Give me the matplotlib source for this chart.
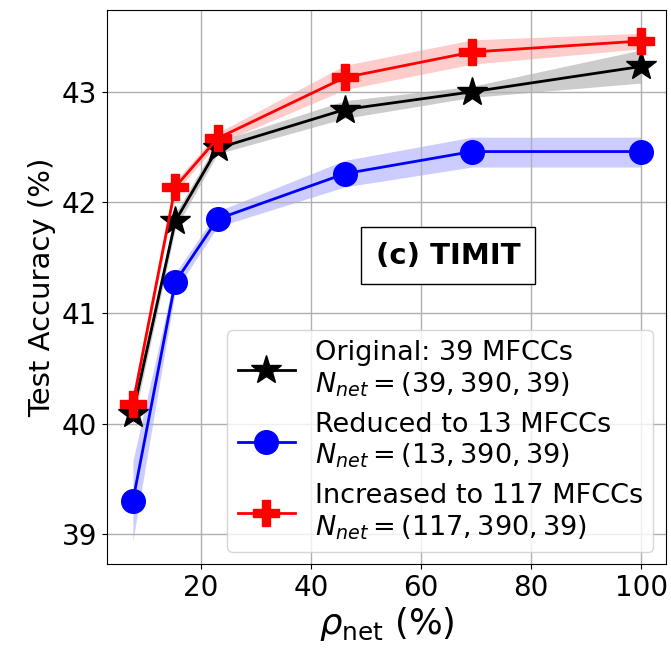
import matplotlib
matplotlib.use("Agg")
import matplotlib.pyplot as plt
import numpy as np

x = [100/13, 200/13, 300/13, 600/13, 900/13, 100.0]

orig_mean = [40.09, 41.83, 42.49, 42.84, 43.00, 43.23]
orig_lo   = [39.99, 41.76, 42.44, 42.76, 42.95, 43.08]
orig_hi   = [40.19, 41.90, 42.55, 42.92, 43.05, 43.38]

red_mean = [40.18, 42.14, 42.58, 43.13, 43.36, 43.46]
red_lo   = [40.10, 42.09, 42.53, 43.02, 43.25, 43.39]
red_hi   = [40.26, 42.19, 42.63, 43.24, 43.47, 43.53]

blue_mean = [39.30, 41.28, 41.85, 42.26, 42.46, 42.46]
blue_lo   = [38.94, 41.20, 41.78, 42.14, 42.32, 42.32]
blue_hi   = [39.66, 41.36, 41.92, 42.38, 42.59, 42.59]

labels = ["Original: 39 MFCCs\n$N_{net} = (39, 390, 39)$",
          "Reduced to 13 MFCCs\n$N_{net} = (13, 390, 39)$",
          "Increased to 117 MFCCs\n$N_{net} = (117, 390, 39)$"]

fig = plt.figure(figsize=(6.71, 6.51), dpi=100)
ax = fig.add_axes([0.1595, 0.1336, 0.8325, 0.851])

ax.fill_between(x, orig_lo, orig_hi, color="black", alpha=0.2, lw=0)
ax.fill_between(x, blue_lo, blue_hi, color="blue", alpha=0.2, lw=0)
ax.fill_between(x, red_lo, red_hi, color="red", alpha=0.2, lw=0)

ax.plot(x, orig_mean, color="black", marker="*", markersize=22, lw=2, label=labels[0], zorder=4)
ax.plot(x, blue_mean, color="blue", marker="o", markersize=17, lw=2, label=labels[1], zorder=3)
ax.plot(x, red_mean, color="red", marker="P", markersize=19, lw=2, label=labels[2], zorder=5)

ax.set_xlim(3.0, 104.4)
ax.set_ylim(38.73, 43.74)
ax.set_xticks([20, 40, 60, 80, 100])
ax.set_yticks([39, 40, 41, 42, 43])
ax.tick_params(labelsize=20)
ax.grid(True, color="#b0b0b0", lw=1)
ax.set_xlabel(r"$\rho_{\rm net}$ (%)", fontsize=25.5, labelpad=2)
ax.set_ylabel("Test Accuracy (%)", fontsize=21)

ax.text(64.9, 41.52, "(c) TIMIT", fontsize=21, fontweight="bold", ha="center", va="center",
        bbox=dict(boxstyle="square,pad=0.5", facecolor="white", edgecolor="black"))

ax.legend(loc="lower right", fontsize=19.5, handlelength=2.1, labelspacing=0.45,
          borderpad=0.38, handletextpad=0.75, borderaxespad=0.45)

fig.savefig("out.png", dpi=100)
